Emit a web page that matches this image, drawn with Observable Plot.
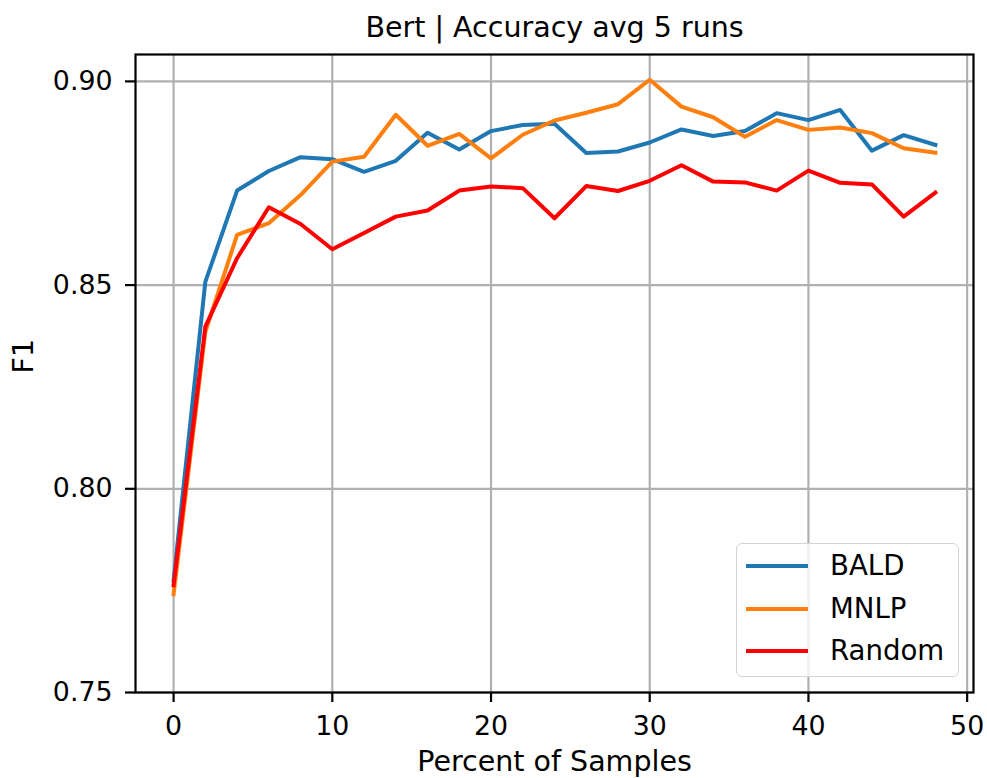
<!DOCTYPE html>
<html>
<head>
<meta charset="utf-8">
<script src="https://cdn.jsdelivr.net/npm/d3@7"></script>
<script src="https://cdn.jsdelivr.net/npm/@observablehq/plot@0.6"></script>
<style>
  html, body { margin: 0; padding: 0; background: #fff; }
  #wrap { position: relative; width: 987px; height: 778px; font-family: "DejaVu Sans", sans-serif; }
  #legend { position: absolute; left: 736px; top: 543px; width: 221px; height: 132px;
    border: 1.5px solid #d4d4d4; border-radius: 6px; background: rgba(255,255,255,0.8); }
  .sw { position: absolute; left: 9px; width: 62px; height: 4px; }
  .lab { position: absolute; left: 93px; font-size: 27.6px; line-height: 30px; color: #000; white-space: nowrap; }
</style>
</head>
<body>
<div id="wrap"></div>
<script>
const percents = [0,2,4,6,8,10,12,14,16,18,20,22,24,26,28,30,32,34,36,38,40,42,44,46,48];
const bald   = [0.7775,0.8508,0.8732,0.8780,0.8814,0.8809,0.8778,0.8805,0.8874,0.8833,0.8878,0.8893,0.8896,0.8824,0.8828,0.8850,0.8882,0.8866,0.8878,0.8922,0.8905,0.8930,0.8830,0.8868,0.8844];
const mnlp   = [0.7741,0.8385,0.8623,0.8652,0.8721,0.8803,0.8815,0.8918,0.8842,0.8871,0.8811,0.8869,0.8904,0.8923,0.8944,0.9004,0.8938,0.8912,0.8864,0.8905,0.8881,0.8887,0.8873,0.8836,0.8825];
const random = [0.7763,0.8398,0.8566,0.8691,0.8650,0.8588,0.8628,0.8668,0.8683,0.8732,0.8742,0.8738,0.8664,0.8743,0.8731,0.8756,0.8794,0.8754,0.8752,0.8732,0.8781,0.8751,0.8747,0.8668,0.8727];
const seriesNames = ["BALD", "MNLP", "Random"];
const seriesColors = ["#1f77b4", "#ff7f0e", "#ff0000"];
const xTicks = [0, 10, 20, 30, 40, 50];
const yTicks = [0.75, 0.80, 0.85, 0.90];
const titleText = "Bert | Accuracy avg 5 runs";
const xLabel = "Percent of Samples";
const yLabel = "F1";

const seriesValues = [bald, mnlp, random];
const rows = [];
seriesNames.forEach((name, i) => {
  percents.forEach((p, j) => rows.push({series: name, x: p, y: seriesValues[i][j]}));
});

const fs = 26.8;
const fsLab = 28.5;
const chart = Plot.plot({
  width: 987,
  height: 778,
  marginLeft: 135,
  marginRight: 14,
  marginTop: 54,
  marginBottom: 86,
  style: { fontFamily: "DejaVu Sans, sans-serif", fontSize: fs + "px", color: "#000", background: "#fff" },
  x: { domain: [-2.4, 50.4] },
  y: { domain: [0.75, 0.9066] },
  color: { domain: seriesNames, range: seriesColors },
  marks: [
    Plot.gridX(xTicks, { stroke: "#b0b0b0", strokeOpacity: 1, strokeWidth: 2.2 }),
    Plot.gridY(yTicks, { stroke: "#b0b0b0", strokeOpacity: 1, strokeWidth: 2.2 }),
    Plot.line(rows, { x: "x", y: "y", z: "series", stroke: "series", strokeWidth: 4,
      strokeLinejoin: "round", strokeLinecap: "square" }),
    Plot.frame({ stroke: "#000", strokeWidth: 2.2 }),
    Plot.axisX(xTicks, { tickSize: 10, tickPadding: 13, strokeWidth: 2.2, tickFormat: d3.format("d"), label: null, fontSize: fs }),
    Plot.axisY(yTicks, { tickSize: 10, tickPadding: 13, strokeWidth: 2.2, tickFormat: d3.format(".2f"), label: null, fontSize: fs }),
    Plot.text([titleText], { frameAnchor: "top", dy: -27.1, lineAnchor: "middle", fontSize: fsLab }),
    Plot.text([xLabel], { frameAnchor: "bottom", dy: 69.5, lineAnchor: "middle", fontSize: fsLab }),
    Plot.text([yLabel], { frameAnchor: "left", dx: -112.1, rotate: -90, lineAnchor: "middle", fontSize: fsLab })
  ]
});

const wrap = document.getElementById("wrap");
wrap.appendChild(chart);

const legend = document.createElement("div");
legend.id = "legend";
const rowTops = [7, 50, 92];
seriesNames.forEach((name, i) => {
  const sw = document.createElement("div");
  sw.className = "sw";
  sw.style.top = (rowTops[i] + 13) + "px";
  sw.style.background = seriesColors[i];
  legend.appendChild(sw);
  const lab = document.createElement("div");
  lab.className = "lab";
  lab.style.top = rowTops[i] + "px";
  lab.textContent = name;
  legend.appendChild(lab);
});
wrap.appendChild(legend);
</script>
</body>
</html>
